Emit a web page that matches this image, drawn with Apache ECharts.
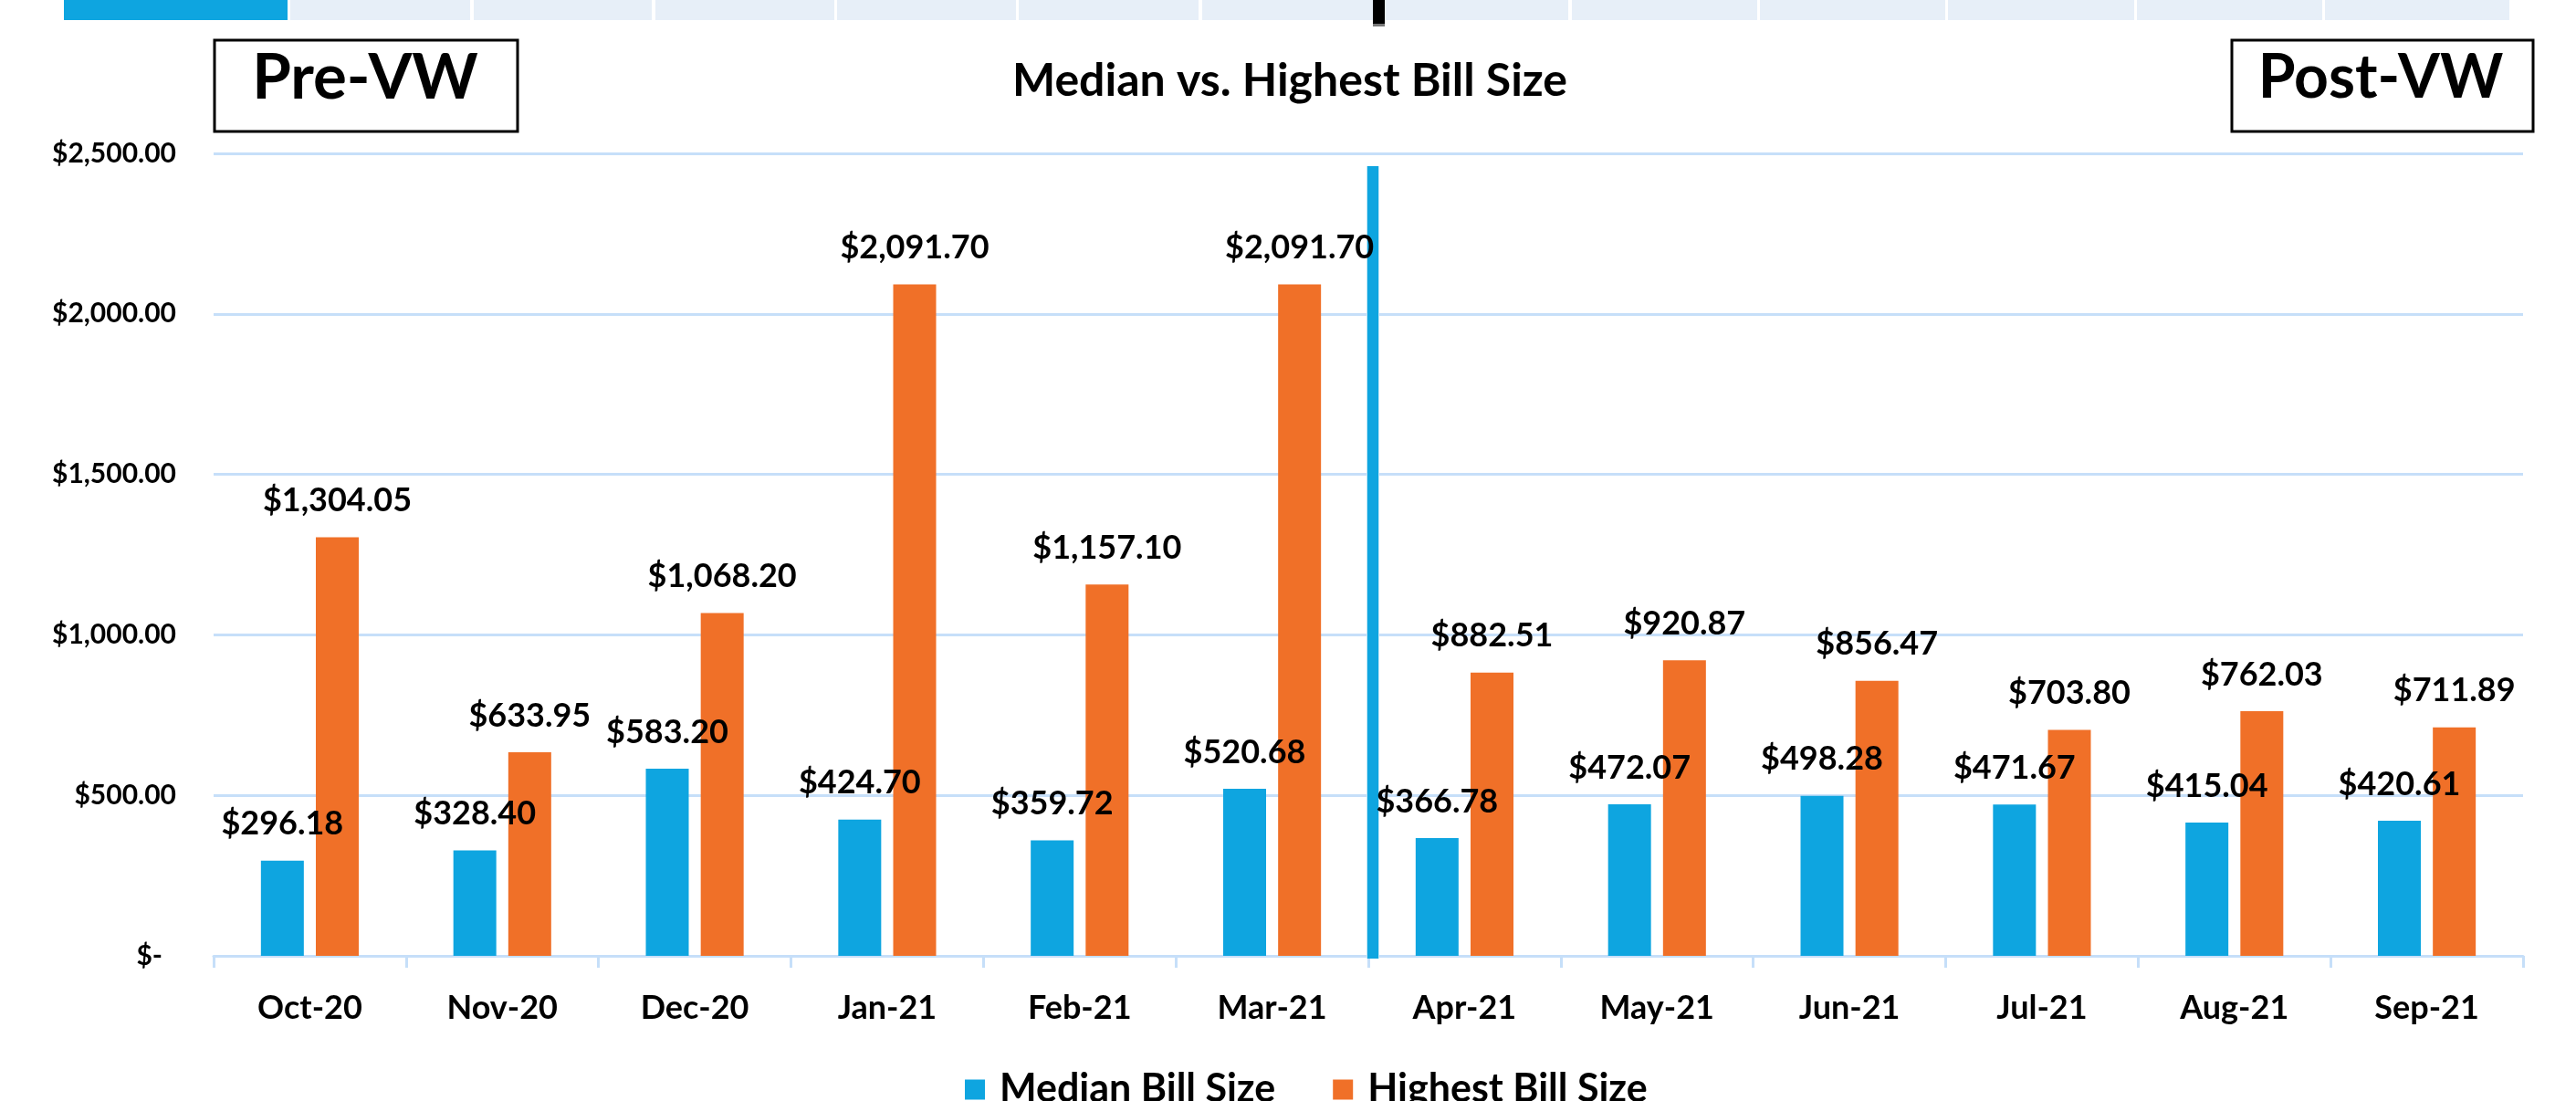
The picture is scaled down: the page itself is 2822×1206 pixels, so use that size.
<!DOCTYPE html>
<html>
<head>
<meta charset="utf-8">
<script src="https://cdn.jsdelivr.net/npm/echarts@6/dist/echarts.min.js"></script>
<style>
  html, body { margin: 0; padding: 0; background: #fff; }
  #chart { width: 2822px; height: 1206px; }
</style>
</head>
<body>
<div id="chart"></div>
<script>
const categories = ['Oct-20', 'Nov-20', 'Dec-20', 'Jan-21', 'Feb-21', 'Mar-21',
                    'Apr-21', 'May-21', 'Jun-21', 'Jul-21', 'Aug-21', 'Sep-21'];
const medianBill = [296.18, 328.40, 583.20, 424.70, 359.72, 520.68,
                    366.78, 472.07, 498.28, 471.67, 415.04, 420.61];
const highestBill = [1304.05, 633.95, 1068.20, 2091.70, 1157.10, 2091.70,
                     882.51, 920.87, 856.47, 703.80, 762.03, 711.89];
const seriesNames = ['Median Bill Size', 'Highest Bill Size'];
const yTicks = [0, 500, 1000, 1500, 2000, 2500];

let color = ['#0EA5E0', '#F07028'];
let gridColor = '#C6DFF9';
let font = 'Lato';

const money = v => '$' + Number(v).toLocaleString('en-US', {
    minimumFractionDigits: 2,
    maximumFractionDigits: 2
});

let labelStyle = {
    show: true,
    position: 'top',
    distance: 22,
    color: '#000',
    fontFamily: font,
    fontWeight: 'bold',
    fontSize: 36,
    formatter: p => money(p.value)
};

let option = {
    animation: false,
    backgroundColor: '#fff',
    color: color,
    title: {
        text: 'Median vs. Highest Bill Size',
        left: 1413,
        top: 64,
        textAlign: 'center',
        padding: 0,
        textStyle: {
            color: '#000',
            fontFamily: font,
            fontWeight: 'bold',
            fontSize: 50
        }
    },
    legend: {
        left: 1052,
        top: 1167,
        itemWidth: 22,
        itemHeight: 22,
        itemGap: 63,
        icon: 'rect',
        textStyle: {
            color: '#000',
            fontFamily: font,
            fontWeight: 'bold',
            fontSize: 43,
            padding: [0, 0, 0, 11]
        },
        data: seriesNames
    },
    grid: {
        left: 234,
        right: 58,
        top: 168,
        bottom: 159,
        containLabel: false
    },
    xAxis: {
        type: 'category',
        data: categories,
        axisLine: {
            lineStyle: { color: gridColor, width: 3 }
        },
        axisTick: {
            show: true,
            length: 13,
            lineStyle: { color: gridColor, width: 3 }
        },
        axisLabel: {
            margin: 39,
            interval: 0,
            color: '#000',
            fontFamily: font,
            fontWeight: 'bold',
            fontSize: 36
        }
    },
    yAxis: {
        type: 'value',
        min: yTicks[0],
        max: yTicks[yTicks.length - 1],
        interval: yTicks[1] - yTicks[0],
        axisLine: { show: false },
        axisTick: { show: false },
        splitLine: {
            lineStyle: { color: gridColor, width: 3 }
        },
        axisLabel: {
            margin: 41,
            color: '#000',
            fontFamily: font,
            fontWeight: 'bold',
            fontSize: 30,
            formatter: v => v === 0 ? '{z|$-}' : money(v),
            rich: {
                z: {
                    color: '#000',
                    fontFamily: font,
                    fontWeight: 'bold',
                    fontSize: 30,
                    padding: [0, 15, 0, 0]
                }
            }
        }
    },
    series: [{
        name: seriesNames[0],
        type: 'bar',
        barWidth: 47,
        barGap: '28%',
        itemStyle: { color: color[0] },
        label: labelStyle,
        data: medianBill
    }, {
        name: seriesNames[1],
        type: 'bar',
        barWidth: 47,
        barGap: '28%',
        itemStyle: { color: color[1] },
        label: labelStyle,
        data: highestBill
    }]
};

let mychart = echarts.init(document.getElementById('chart'));
mychart.setOption(option);

// decorations: cropped tab strip on top, Pre/Post boxes, divider line
function buildGraphic() {
    let g = [];
    g.push({ type: 'rect', shape: { x: 70, y: 0, width: 245, height: 22 }, style: { fill: '#0EA5E0' } });
    let tabs = [[318, 515], [519, 714], [718, 914], [917, 1113], [1116, 1313], [1317, 1510],
                [1517, 1718], [1722, 1925], [1928, 2131], [2134, 2338], [2341, 2544], [2547, 2749]];
    tabs.forEach(t => {
        g.push({ type: 'rect', shape: { x: t[0], y: 0, width: t[1] - t[0], height: 22 }, style: { fill: '#E7EFF8' } });
    });
    g.push({ type: 'rect', shape: { x: 1504, y: 0, width: 13, height: 26 }, style: { fill: '#000' } });
    g.push({ type: 'rect', shape: { x: 1504, y: 26, width: 13, height: 3 }, style: { fill: '#777' } });

    // Pre-VW / Post-VW boxes
    g.push({ type: 'rect', shape: { x: 235, y: 44, width: 332, height: 100 },
             style: { fill: '#fff', stroke: '#000', lineWidth: 3 } });
    g.push({ type: 'text', x: 400, y: 86,
             style: { text: 'Pre-VW', fontFamily: font, fontWeight: 'bold', fontSize: 69,
                      fill: '#000', textAlign: 'center', textVerticalAlign: 'middle' } });
    g.push({ type: 'rect', shape: { x: 2445, y: 44, width: 330, height: 100 },
             style: { fill: '#fff', stroke: '#000', lineWidth: 3 } });
    g.push({ type: 'text', x: 2608, y: 86,
             style: { text: 'Post-VW', fontFamily: font, fontWeight: 'bold', fontSize: 66,
                      fill: '#000', textAlign: 'center', textVerticalAlign: 'middle' } });

    // divider between Mar-21 and Apr-21, kept under the series labels
    let xa = mychart.convertToPixel({ xAxisIndex: 0 }, 'Mar-21');
    let xb = mychart.convertToPixel({ xAxisIndex: 0 }, 'Apr-21');
    let xm = (xa + xb) / 2;
    let yb = mychart.convertToPixel({ yAxisIndex: 0 }, 0);
    let yt = mychart.convertToPixel({ yAxisIndex: 0 }, 2460);
    g.push({ type: 'rect', z: 1, shape: { x: xm - 2, y: yt, width: 14, height: yb - yt + 3 },
             style: { fill: '#BFE6F7' } });
    g.push({ type: 'rect', z: 1, shape: { x: xm - 1, y: yt, width: 12, height: yb - yt + 3 },
             style: { fill: '#0EA5E0' } });
    return g;
}
mychart.setOption({ graphic: buildGraphic() });

window.addEventListener('resize', function () {
    mychart.resize();
});
</script>
</body>
</html>
